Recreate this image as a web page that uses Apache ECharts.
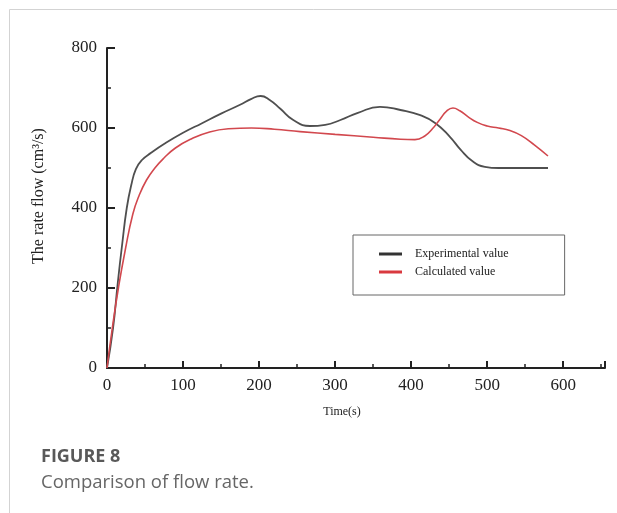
<!DOCTYPE html>
<html>
<head>
<meta charset="utf-8">
<script src="https://cdn.jsdelivr.net/npm/echarts@6/dist/echarts.min.js"></script>
<style>
html,body{margin:0;padding:0;background:#fff;}
#chart{width:617px;height:513px;}
</style>
</head>
<body>
<div id="chart"></div>
<script>
var seriesNames = ['Experimental value', 'Calculated value'];
var xTicks = [0, 100, 200, 300, 400, 500, 600];
var yTicks = [0, 200, 400, 600, 800];

var expTime = [0, 8, 14, 20, 26, 32, 38, 46, 58, 75, 100, 125, 150, 175, 190, 202, 214, 228, 245, 267, 287, 307, 330, 359, 386, 412, 432, 451, 465, 480, 497, 515, 580];
var expFlow = [0, 100, 210, 310, 400, 458, 497, 520, 538, 560, 588, 612, 636, 658, 673, 680, 670, 648, 620, 605, 608, 620, 638, 653, 645, 632, 612, 578, 546, 518, 503, 500, 500];

var calcTime = [0, 7, 15, 24, 34, 42, 52, 63, 75, 90, 110, 135, 160, 190, 220, 254, 300, 350, 386, 405, 418, 428, 438, 447, 455, 464, 475, 487, 500, 515, 530, 545, 562, 580];
var calcFlow = [0, 100, 200, 295, 385, 430, 470, 500, 525, 550, 572, 590, 598, 600, 597, 591, 584, 577, 572, 571, 580, 598, 622, 643, 650, 643, 628, 614, 605, 600, 594, 581, 558, 530];

function pairs(xs, ys) { return xs.map(function (x, i) { return [x, ys[i]]; }); }

var serif = 'Liberation Serif';
var chart = echarts.init(document.getElementById('chart'));
chart.setOption({
  animation: false,
  backgroundColor: '#fff',
  grid: { left: 107, top: 48, right: 12, bottom: 145, containLabel: false },
  xAxis: {
    type: 'value', min: xTicks[0], max: 655, interval: 100,
    name: 'Time(s)', nameLocation: 'middle', nameGap: 38,
    nameTextStyle: { fontFamily: serif, fontSize: 12, color: '#222', padding: [0, 28, 0, 0] },
    axisLine: { show: true, lineStyle: { color: '#222', width: 2 } },
    axisTick: { show: true, inside: true, length: 7, lineStyle: { color: '#222', width: 2 } },
    minorTick: { show: true, splitNumber: 2, length: 4, lineStyle: { color: '#222', width: 1.5 } },
    axisLabel: { fontFamily: serif, fontSize: 17, color: '#222', margin: 9, showMaxLabel: false,
      formatter: function (v) { return xTicks.indexOf(v) >= 0 ? String(v) : ''; } },
    splitLine: { show: false }
  },
  yAxis: {
    type: 'value', min: yTicks[0], max: 800, interval: 200,
    name: 'The rate flow (cm³/s)', nameLocation: 'middle', nameGap: 60,
    nameTextStyle: { fontFamily: serif, fontSize: 16, color: '#222', padding: [0, 0, 0, 24] },
    axisLine: { show: true, lineStyle: { color: '#222', width: 2 } },
    axisTick: { show: true, inside: true, length: 8, lineStyle: { color: '#222', width: 2 } },
    minorTick: { show: true, splitNumber: 2, length: 4, lineStyle: { color: '#222', width: 1.5 } },
    axisLabel: { fontFamily: serif, fontSize: 17, color: '#222', margin: 10 },
    splitLine: { show: false }
  },
  legend: {
    left: 353, top: 235, orient: 'vertical',
    padding: [12, 56, 16, 26],
    itemGap: 4, itemWidth: 23, itemHeight: 3, icon: 'rect',
    borderColor: '#666', borderWidth: 1, borderRadius: 0,
    textStyle: { fontFamily: serif, fontSize: 12, color: '#222', lineHeight: 14, padding: [0, 0, 0, 8] },
    data: seriesNames
  },
  series: [
    { name: seriesNames[0], type: 'line', data: pairs(expTime, expFlow), smooth: 0.5, showSymbol: false,
      color: '#333333', lineStyle: { color: '#4f4f4f', width: 1.8 } },
    { name: seriesNames[1], type: 'line', data: pairs(calcTime, calcFlow), smooth: 0.5, showSymbol: false,
      color: '#d9393f', lineStyle: { color: '#d2484e', width: 1.6 } }
  ],
  graphic: [
    { type: 'line', shape: { x1: 9.5, y1: 9.5, x2: 617, y2: 9.5 }, style: { stroke: '#d3d3d3', lineWidth: 1 } },
    { type: 'line', shape: { x1: 9.5, y1: 9.5, x2: 9.5, y2: 513 }, style: { stroke: '#d3d3d3', lineWidth: 1 } },
    { type: 'text', left: 41, top: 448, style: { text: 'FIGURE 8', fontFamily: 'Open Sans', fontWeight: 'bold', fontSize: 18, fill: '#595959' } },
    { type: 'text', left: 41, top: 473, style: { text: 'Comparison of flow rate.', fontFamily: 'Open Sans', fontSize: 18.5, fill: '#666666' } }
  ]
});
</script>
</body>
</html>
